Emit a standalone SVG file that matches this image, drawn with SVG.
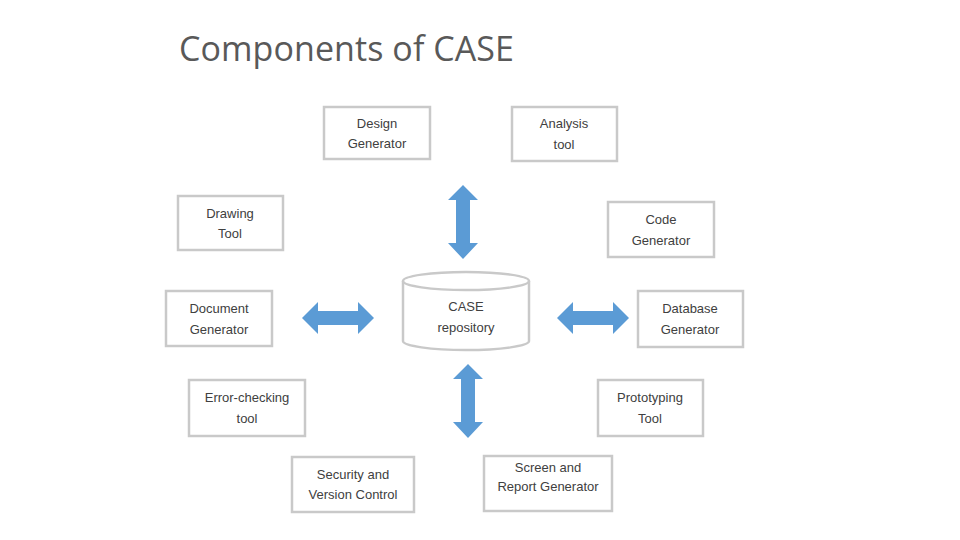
<svg xmlns="http://www.w3.org/2000/svg" width="960" height="540" viewBox="0 0 960 540">
<style>
.box{fill:#ffffff;stroke:#c9c9c9;stroke-width:2.5}
.t{font-family:"Liberation Sans",Arial,sans-serif;font-size:13px;fill:#404040;text-anchor:middle}
.title{font-family:"Open Sans","Liberation Sans",sans-serif;font-size:34px;fill:#595959}
.arr{fill:#5b9bd5}
</style>
<rect width="960" height="540" fill="#ffffff"/>
<text class="title" x="179" y="61" textLength="335">Components of CASE</text>
<g id="design"><rect class="box" x="324" y="107" width="106" height="52"/><text class="t" x="377" y="128">Design</text><text class="t" x="377" y="148">Generator</text></g>
<g id="analysis"><rect class="box" x="512" y="107" width="105" height="54"/><text class="t" x="564" y="128">Analysis</text><text class="t" x="564" y="149">tool</text></g>
<g id="drawing"><rect class="box" x="178" y="196" width="105" height="54"/><text class="t" x="230" y="218">Drawing</text><text class="t" x="230" y="238">Tool</text></g>
<g id="code"><rect class="box" x="608" y="202" width="106" height="55"/><text class="t" x="661" y="224">Code</text><text class="t" x="661" y="245">Generator</text></g>
<g id="document"><rect class="box" x="166" y="291" width="106" height="55"/><text class="t" x="219" y="313">Document</text><text class="t" x="219" y="334">Generator</text></g>
<g id="database"><rect class="box" x="638" y="291" width="105" height="56"/><text class="t" x="690" y="313">Database</text><text class="t" x="690" y="334">Generator</text></g>
<g id="error"><rect class="box" x="189" y="380" width="116" height="56"/><text class="t" x="247" y="402">Error-checking</text><text class="t" x="247" y="423">tool</text></g>
<g id="proto"><rect class="box" x="598" y="380" width="105" height="56"/><text class="t" x="650" y="402">Prototyping</text><text class="t" x="650" y="423">Tool</text></g>
<g id="security"><rect class="box" x="292" y="457" width="122" height="55"/><text class="t" x="353" y="479">Security and</text><text class="t" x="353" y="499">Version Control</text></g>
<g id="screen"><rect class="box" x="484" y="456" width="128" height="55"/><text class="t" x="548" y="472">Screen and</text><text class="t" x="548" y="491">Report Generator</text></g>
<g id="repo">
<path class="box" d="M403,281 A63,9 0 0 1 529,281 L529,341 A63,9 0 0 1 403,341 Z"/>
<path d="M403,281 A63,9 0 0 0 529,281" fill="none" stroke="#c9c9c9" stroke-width="2.5"/>
<text class="t" x="466" y="311">CASE</text><text class="t" x="466" y="332">repository</text>
</g>
<g id="connectors">
<path class="arr" d="M463,185 L478,200 L470,200 L470,243 L478,243 L463,259 L448,243 L456,243 L456,200 L448,200 Z"/>
<path class="arr" d="M468,364 L483,379 L475,379 L475,422 L483,422 L468,438 L453,422 L461,422 L461,379 L453,379 Z"/>
<path class="arr" d="M302,318 L318,302 L318,311 L358,311 L358,302 L374,318 L358,334 L358,325 L318,325 L318,334 Z"/>
<path class="arr" d="M557,318 L573,302 L573,311 L613,311 L613,302 L629,318 L613,334 L613,325 L573,325 L573,334 Z"/>
</g>
</svg>
